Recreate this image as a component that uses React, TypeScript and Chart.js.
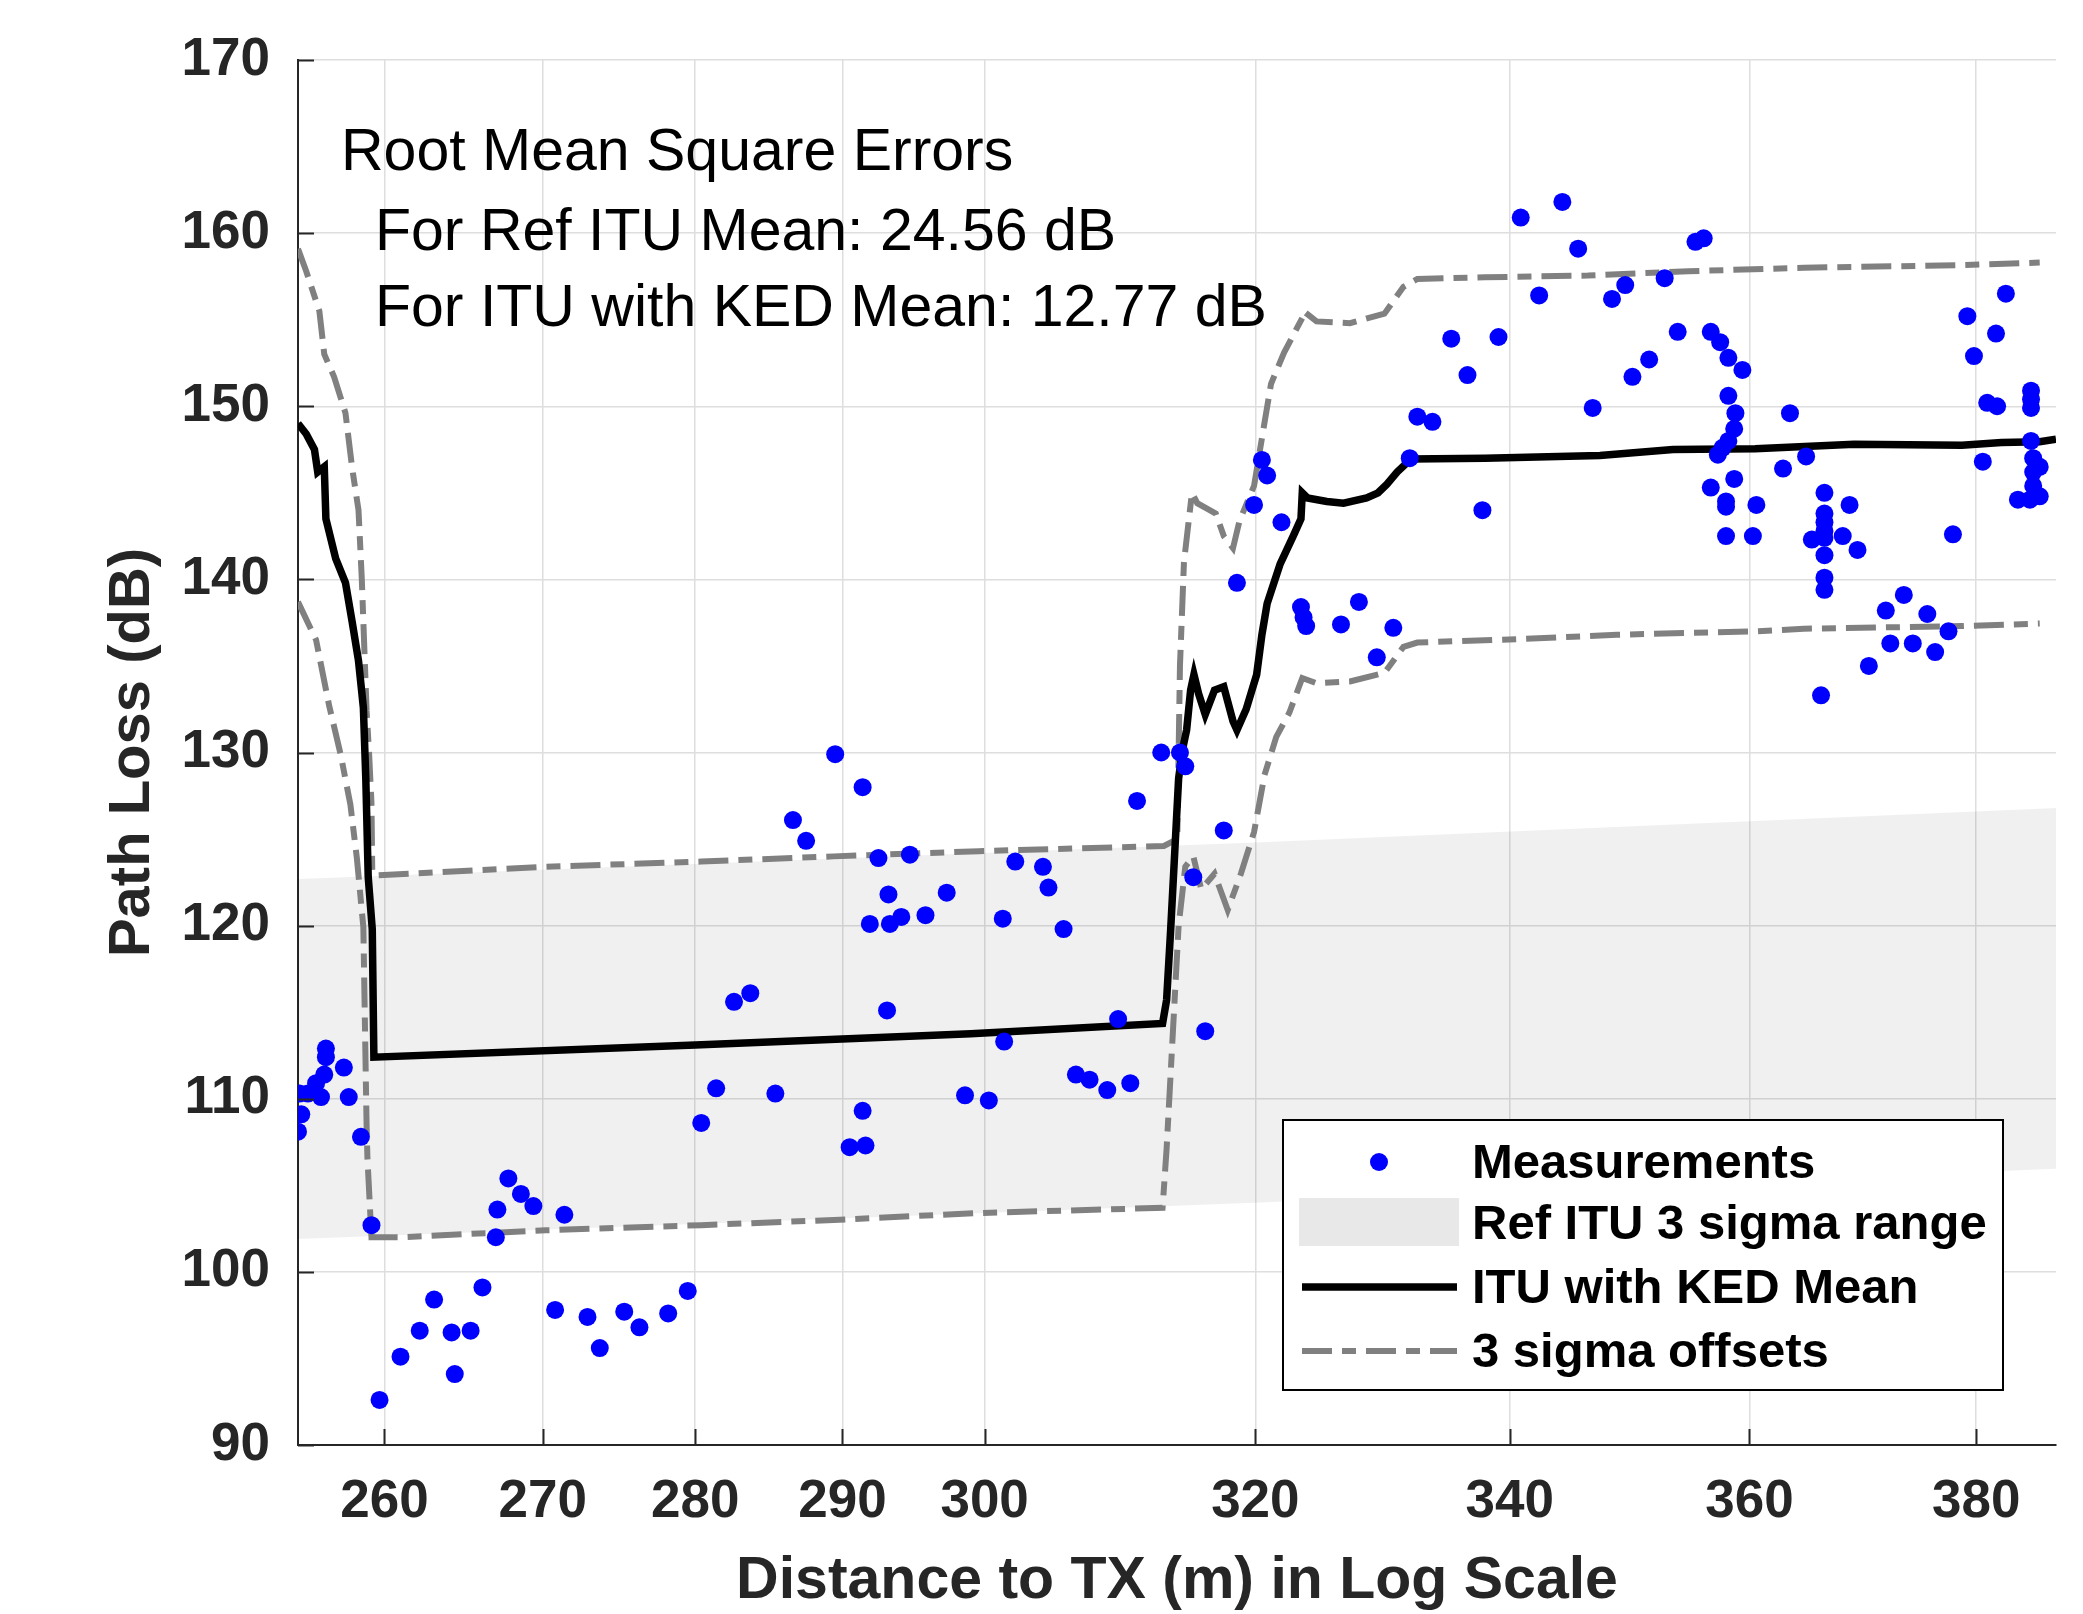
import React, { useEffect, useRef } from 'react';
import { Chart, registerables } from 'chart.js';

Chart.register(...registerables);

// ---------- data ----------
const X_TICKS = [260, 270, 280, 290, 300, 320, 340, 360, 380];
const Y_TICKS = [90, 100, 110, 120, 130, 140, 150, 160, 170];
const X_MIN = 254.7;
const X_MAX = 387.3;
const Y_MIN = 90;
const Y_MAX = 170;

const MEAS_X = [
  254.7, 254.9, 254.8, 255.3, 255.8, 256.1, 256.3, 256.4, 256.4, 257.5, 257.8, 258.55, 259.2, 259.7,
  261.0, 262.2, 263.1, 264.2, 264.4, 265.4, 266.15, 267.0, 267.1, 267.8, 268.6, 269.4, 270.8, 271.4,
  272.9, 273.7, 275.3, 276.3, 278.2, 279.5, 280.4, 281.4, 282.6, 283.7, 285.4, 286.6, 287.5, 289.5,
  290.5, 291.4, 291.4, 291.6, 291.9, 292.5, 293.1, 293.2, 293.3, 294.1, 294.7, 295.8, 297.3, 298.6,
  300.3, 301.3, 301.4, 302.2, 304.2, 304.6, 305.7, 306.6, 307.6, 308.9, 309.7, 310.6, 311.1, 312.9,
  314.3, 314.7, 315.3, 316.2, 317.6, 318.6, 319.9, 320.5, 320.9, 322.0, 323.5, 323.7, 323.9, 326.6,
  328.0, 329.4, 330.7, 332.0, 332.6, 333.8, 335.3, 336.6, 337.8, 339.1, 340.9, 342.4, 344.3, 345.6,
  346.8, 348.4, 349.5, 350.1, 351.5, 352.8, 353.9, 355.4, 356.1, 356.7, 357.5, 358.2, 359.4, 358.2,
  358.8, 358.7, 358.2, 357.7, 357.3, 356.7, 358.7, 358.0, 358.0, 358.0, 360.3, 360.6, 362.9, 363.5,
  364.9, 366.5, 366.5, 366.5, 366.5, 366.5, 365.4, 368.1, 368.7, 369.4, 366.5, 366.5, 366.5, 366.2,
  370.4, 371.9, 372.3, 373.5, 374.3, 375.6, 376.3, 377.5, 377.9, 379.2, 379.8, 380.6, 381.0, 381.9,
  381.8, 382.7, 383.8, 384.9, 385.8, 385.0, 385.0, 385.0, 385.0, 385.2, 385.2, 385.8, 385.2,
];
const MEAS_Y = [
  108.1, 109.1, 110.3, 110.3, 110.9, 110.1, 111.4, 112.4, 112.9, 111.8, 110.1, 107.8, 102.7, 92.6,
  95.1, 96.6, 98.4, 96.5, 94.1, 96.6, 99.1, 102.0, 103.6, 105.4, 104.5, 103.8, 97.8, 103.3,
  97.4, 95.6, 97.7, 96.8, 97.6, 98.9, 108.6, 110.6, 115.6, 116.1, 110.3, 126.1, 124.9, 129.9,
  107.2, 128.0, 109.3, 107.3, 120.1, 123.9, 115.1, 121.8, 120.1, 120.5, 124.1, 120.6, 121.9, 110.2,
  109.9, 120.4, 113.3, 123.7, 123.4, 122.2, 119.8, 111.4, 111.1, 110.5, 114.6, 110.9, 127.2, 130.0,
  130.0, 129.2, 122.8, 113.9, 125.5, 139.8, 144.3, 146.9, 146.0, 143.3, 138.4, 137.8, 137.3, 137.4,
  138.7, 135.5, 137.2, 147.0, 149.4, 149.1, 153.9, 151.8, 144.0, 154.0, 160.9, 156.4, 161.8, 159.1,
  149.9, 156.2, 157.0, 151.7, 152.7, 157.4, 154.3, 159.5, 159.7, 154.3, 153.7, 152.8, 152.1, 150.6,
  149.6, 148.7, 148.0, 147.6, 147.2, 145.3, 145.8, 144.5, 144.2, 142.5, 142.5, 144.3, 146.4, 149.6,
  147.1, 145.0, 143.8, 143.3, 142.8, 142.4, 142.3, 142.5, 144.3, 141.7, 141.4, 140.1, 139.4, 133.3,
  135.0, 138.2, 136.3, 139.1, 136.3, 138.0, 135.8, 137.0, 142.6, 155.2, 152.9, 146.8, 150.2, 150.0,
  154.2, 156.5, 144.6, 144.6, 144.8, 150.9, 150.4, 149.9, 148.0, 147.0, 146.2, 146.5, 145.4,
];

const BAND_X = [254.7, 320.0, 387.3];
const BAND_LO = [101.9, 104.0, 105.95];
const BAND_HI = [122.7, 124.8, 126.8];

const MEAN_X = [
  254.7, 255.2, 255.7, 255.9, 256.3, 256.4, 257.0, 257.6, 258.0, 258.4, 258.7, 258.85, 259.0, 259.25,
  259.35, 280.0, 299.0, 313.0, 313.3, 313.6, 313.9, 314.2, 314.5, 314.8, 315.1, 315.35, 315.7, 316.2,
  316.9, 317.6, 318.3, 318.6, 319.3, 320.1, 320.5, 320.9, 321.9, 322.9, 323.5, 323.6, 324.0, 325.5,
  326.8, 328.6, 329.5, 330.2, 331.0, 332.1, 338.0, 347.4, 353.5, 360.5, 369.1, 378.7, 382.3, 385.8, 387.3,
];
const MEAN_Y = [
  149.0, 148.4, 147.5, 146.2, 146.5, 143.5, 141.2, 139.8, 137.6, 135.3, 132.6, 128.5, 122.8, 119.8,
  112.4, 113.1, 113.75, 114.35, 115.7, 119.7, 124.1, 128.5, 130.2, 131.3, 133.6, 134.5, 133.4, 132.2,
  133.6, 133.8, 131.8, 131.3, 132.5, 134.5, 136.8, 138.6, 140.9, 142.5, 143.5, 145.0, 144.7, 144.5,
  144.4, 144.7, 145.0, 145.5, 146.2, 146.95, 147.0, 147.15, 147.5, 147.55, 147.8, 147.75, 147.9, 147.95, 148.1,
];

const UPPER_X = [
  254.7, 255.2, 256.0, 256.3, 256.9, 257.6, 258.0, 258.4, 258.6, 258.8, 258.9, 259.05, 259.2, 259.25,
  259.45, 270.2, 280.4, 289.4, 299.6, 313.1, 314.1, 314.3, 314.6, 315.2, 315.6, 316.3, 317.0, 317.6,
  318.3, 318.8, 319.9, 320.6, 321.2, 322.2, 323.6, 323.7, 324.7, 327.3, 330.0, 331.5, 332.6, 338.0,
  346.4, 354.8, 364.7, 378.7, 385.8,
];
const UPPER_Y = [
  159.1, 157.8, 155.5, 153.0, 151.7, 149.6, 146.5, 144.0, 140.1, 135.0, 132.4, 130.0, 127.1, 123.1,
  122.9, 123.4, 123.7, 124.0, 124.3, 124.6, 125.0, 135.0, 141.0, 145.0, 144.4, 144.1, 143.8, 142.5,
  141.8, 143.4, 145.4, 148.6, 151.3, 153.1, 155.1, 155.5, 154.9, 154.8, 155.35, 156.9, 157.35, 157.45,
  157.55, 157.8, 158.0, 158.15, 158.3,
];

const LOWER_X = [
  254.7, 255.8, 256.6, 257.3, 257.9, 258.3, 258.7, 258.8, 258.9, 258.95, 259.2, 261.0, 270.2, 280.4,
  289.4, 299.6, 313.0, 313.3, 313.6, 313.9, 314.2, 314.7, 315.3, 315.9, 316.9, 317.9, 318.9, 319.9,
  320.7, 321.6, 322.6, 323.6, 324.7, 327.3, 330.0, 331.5, 332.6, 340.7, 348.8, 360.5, 364.7, 378.7, 385.8,
];
const LOWER_Y = [
  138.7, 136.5, 132.7, 129.9, 127.0, 123.9, 119.9, 114.1, 108.4, 106.6, 102.0, 102.0, 102.4, 102.7,
  103.0, 103.4, 103.7, 107.1, 111.4, 115.7, 120.0, 123.4, 124.0, 122.1, 123.0, 120.9, 123.0, 125.4,
  128.7, 130.9, 132.3, 134.3, 134.0, 134.1, 134.6, 136.1, 136.35, 136.55, 136.8, 137.0, 137.15, 137.3, 137.45,
];

const RMSE_LINES = [
  'Root Mean Square Errors',
  'For Ref ITU Mean: 24.56 dB',
  'For ITU with KED Mean: 12.77 dB',
];
const LEGEND_LABELS = ['Measurements', 'Ref ITU 3 sigma range', 'ITU with KED Mean', '3 sigma offsets'];
const X_TITLE = 'Distance to TX (m) in Log Scale';
const Y_TITLE = 'Path Loss (dB)';

// ---------- styles ----------
const FONT = '"Liberation Sans", Arial, Helvetica, sans-serif';
const BLUE = '#0000ff';
const GRAY = '#808080';
const BAND_FILL = 'rgba(0,0,0,0.06)';
const DASH = [30, 10, 14, 10];
const MEAN_W = 7.5;
const DASH_W = 6;

const pts = (xs: number[], ys: number[]) => xs.map((x, i) => ({ x, y: ys[i] }));

const overlayPlugin = {
  id: 'overlay',
  afterDraw(chart: any) {
    const { ctx, chartArea } = chart;
    const xs = chart.scales.x;
    const ys = chart.scales.y;
    ctx.save();
    // inward tick marks
    ctx.strokeStyle = '#262626';
    ctx.lineWidth = 2;
    ctx.beginPath();
    Y_TICKS.forEach((v) => {
      const py = Math.round(ys.getPixelForValue(v)) + 0.5;
      ctx.moveTo(chartArea.left, py);
      ctx.lineTo(chartArea.left + 16, py);
    });
    X_TICKS.forEach((v) => {
      const px = Math.round(xs.getPixelForValue(v)) + 0.5;
      ctx.moveTo(px, chartArea.bottom);
      ctx.lineTo(px, chartArea.bottom - 16);
    });
    ctx.stroke();

    // RMSE annotation
    ctx.fillStyle = '#000';
    ctx.font = `59px ${FONT}`;
    ctx.textAlign = 'left';
    ctx.textBaseline = 'alphabetic';
    ctx.fillText(RMSE_LINES[0], chartArea.left + 43, chartArea.top + 110);
    ctx.fillText(RMSE_LINES[1], chartArea.left + 77, chartArea.top + 190);
    ctx.fillText(RMSE_LINES[2], chartArea.left + 77, chartArea.top + 266);

    // legend
    const bw = 720;
    const bh = 270;
    const bx = chartArea.right - 53 - bw;
    const by = chartArea.bottom - 55 - bh;
    ctx.fillStyle = '#fff';
    ctx.fillRect(bx, by, bw, bh);
    ctx.strokeStyle = '#000';
    ctx.lineWidth = 2;
    ctx.strokeRect(bx, by, bw, bh);
    const rows = [42, 103, 167, 231];
    // marker
    ctx.fillStyle = BLUE;
    ctx.beginPath();
    ctx.arc(bx + 96, by + rows[0], 9, 0, Math.PI * 2);
    ctx.fill();
    // patch
    ctx.fillStyle = '#e8e8e8';
    ctx.fillRect(bx + 16, by + 78, 160, 48);
    // solid line
    ctx.strokeStyle = '#000';
    ctx.lineWidth = MEAN_W;
    ctx.beginPath();
    ctx.moveTo(bx + 19, by + rows[2]);
    ctx.lineTo(bx + 174, by + rows[2]);
    ctx.stroke();
    // dashed line
    ctx.strokeStyle = GRAY;
    ctx.lineWidth = DASH_W;
    ctx.setLineDash(DASH);
    ctx.beginPath();
    ctx.moveTo(bx + 19, by + rows[3]);
    ctx.lineTo(bx + 174, by + rows[3]);
    ctx.stroke();
    ctx.setLineDash([]);
    // labels
    ctx.fillStyle = '#000';
    ctx.font = `bold 49px ${FONT}`;
    ctx.textBaseline = 'middle';
    LEGEND_LABELS.forEach((t, i) => ctx.fillText(t, bx + 189, by + rows[i] + 2));
    ctx.restore();
  },
};

export default function App() {
  const ref = useRef<HTMLCanvasElement | null>(null);

  useEffect(() => {
    if (!ref.current) return;
    const chart = new Chart(ref.current, {
      type: 'line',
      data: {
        datasets: [
          {
            label: LEGEND_LABELS[0],
            data: pts(MEAS_X, MEAS_Y),
            showLine: false,
            pointRadius: 9,
            pointHoverRadius: 9,
            pointBackgroundColor: BLUE,
            pointBorderWidth: 0,
            borderColor: BLUE,
            order: 0,
          },
          {
            label: LEGEND_LABELS[2],
            data: pts(MEAN_X, MEAN_Y),
            borderColor: '#000',
            borderWidth: MEAN_W,
            pointRadius: 0,
            tension: 0,
            fill: false,
            order: 1,
          },
          {
            label: LEGEND_LABELS[3],
            data: pts(UPPER_X, UPPER_Y),
            borderColor: GRAY,
            borderWidth: DASH_W,
            borderDash: DASH,
            pointRadius: 0,
            tension: 0,
            fill: false,
            order: 2,
          },
          {
            label: 'lower offset',
            data: pts(LOWER_X, LOWER_Y),
            borderColor: GRAY,
            borderWidth: DASH_W,
            borderDash: DASH,
            pointRadius: 0,
            tension: 0,
            fill: false,
            order: 2,
          },
          {
            label: 'band low',
            data: pts(BAND_X, BAND_LO),
            borderWidth: 0,
            borderColor: 'rgba(0,0,0,0)',
            pointRadius: 0,
            fill: false,
            order: 3,
          },
          {
            label: LEGEND_LABELS[1],
            data: pts(BAND_X, BAND_HI),
            borderWidth: 0,
            borderColor: 'rgba(0,0,0,0)',
            backgroundColor: BAND_FILL,
            pointRadius: 0,
            fill: '-1',
            order: 3,
          },
        ],
      },
      options: {
        responsive: false,
        maintainAspectRatio: false,
        animation: false,
        devicePixelRatio: 1,
        layout: { padding: { top: 60, right: 27, left: 0, bottom: 0 } },
        plugins: {
          legend: { display: false },
          tooltip: { enabled: false },
          title: { display: false },
        },
        scales: {
          x: {
            type: 'logarithmic',
            min: X_MIN,
            max: X_MAX,
            afterBuildTicks: (s: any) => {
              s.ticks = X_TICKS.map((v) => ({ value: v }));
            },
            afterFit: (s: any) => {
              s.height = 169;
            },
            ticks: {
              autoSkip: false,
              maxRotation: 0,
              padding: 26,
              color: '#262626',
              font: { family: FONT, size: 53, weight: 'bold' },
              callback: (v: any) => String(v),
            },
            grid: { color: '#dedede', lineWidth: 1.5, drawTicks: false },
            border: { display: true, color: '#262626', width: 2 },
            title: {
              display: true,
              text: X_TITLE,
              color: '#262626',
              font: { family: FONT, size: 59, weight: 'bold', lineHeight: 1 },
              padding: { top: 0, bottom: 3 },
            },
          },
          y: {
            type: 'linear',
            min: Y_MIN,
            max: Y_MAX,
            afterBuildTicks: (s: any) => {
              s.ticks = Y_TICKS.map((v) => ({ value: v }));
            },
            afterFit: (s: any) => {
              s.width = 298;
            },
            ticks: {
              padding: 28,
              color: '#262626',
              font: { family: FONT, size: 53, weight: 'bold' },
              callback: (v: any) => String(v),
            },
            grid: { color: '#dedede', lineWidth: 1.5, drawTicks: false },
            border: { display: true, color: '#262626', width: 2 },
            title: {
              display: true,
              text: Y_TITLE,
              color: '#262626',
              font: { family: FONT, size: 58, weight: 'bold', lineHeight: 1.2 },
              padding: { top: 98, bottom: 0 },
            },
          },
        },
      } as any,
      plugins: [overlayPlugin],
    });
    return () => chart.destroy();
  }, []);

  return (
    <div style={{ position: 'absolute', left: 0, top: 0, width: 2083, height: 1614, background: '#fff' }}>
      <canvas ref={ref} width={2083} height={1614} style={{ display: 'block' }} />
    </div>
  );
}
